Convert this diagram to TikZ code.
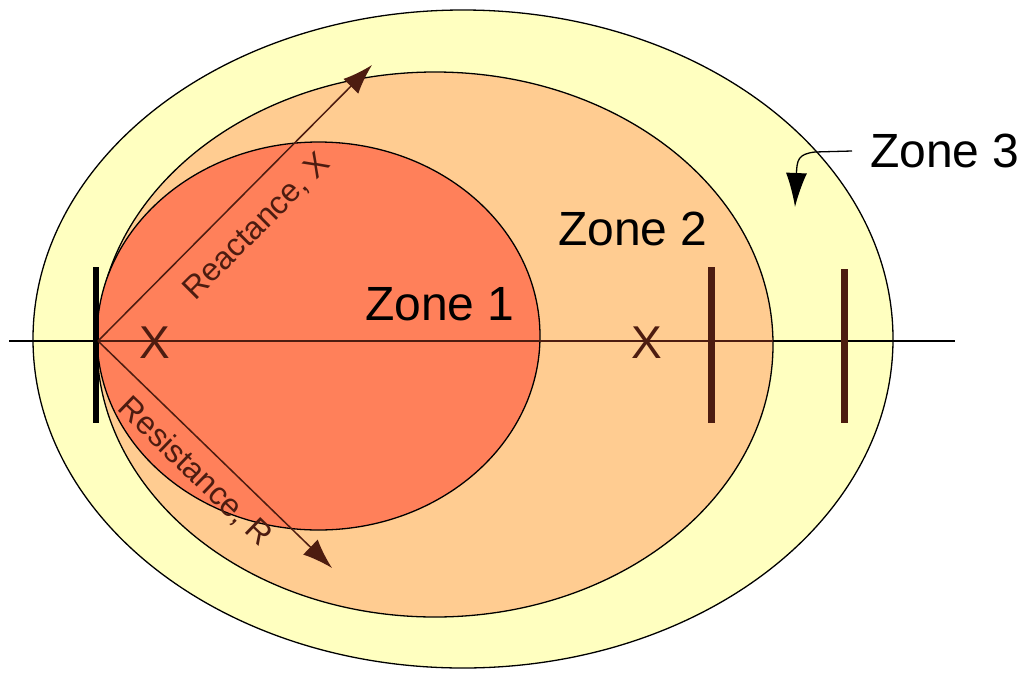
\documentclass[tikz,border=0pt]{standalone}
\usepackage{fontspec}
\setmainfont{Liberation Sans}
\usetikzlibrary{arrows.meta}
\definecolor{zthree}{RGB}{255,255,192}
\definecolor{ztwo}{RGB}{255,204,145}
\definecolor{zone}{RGB}{255,128,90}
\definecolor{dbrown}{RGB}{77,28,16}
\tikzset{
  zoneedge/.style={draw=black,line width=1.3pt},
  zonelabel/.style={font=\fontsize{48}{50}\selectfont,anchor=base west,inner sep=0pt,text=black},
  axislabel/.style={font=\fontsize{32}{34}\selectfont,inner sep=0pt,text=dbrown},
  crossmark/.style={font=\fontsize{46}{48}\selectfont,inner sep=0pt,text=dbrown},
  relaybar/.style={line width=7pt,dbrown},
  reach/.style={dbrown,line width=1.5pt,-{Latex[length=30pt,width=21pt]}},
}
\begin{document}
\begin{tikzpicture}[x=1pt,y=-1pt]
\useasboundingbox (0,0) rectangle (1030,675);
% zones
\draw[zoneedge,fill=zthree] (463,339) ellipse [x radius=430,y radius=329];
\draw[zoneedge,fill=ztwo] (435,344.5) ellipse [x radius=338,y radius=272.5];
\draw[zoneedge,fill=zone] (318.5,336) ellipse [x radius=221.5,y radius=194];
% axis
\coordinate (axl) at (9,341);
\coordinate (axr) at (955,341);
\coordinate (o) at (98,341);
\draw[line width=1.3pt,black] (axl) -- (o);
\draw[line width=1.3pt,dbrown] (o) -- (773,341);
\draw[line width=1.3pt,black] (773,341) -- (axr);
% bars
\coordinate (b0t) at (96,267); \coordinate (b0b) at (96,423);
\draw[line width=6.5pt,black] (b0t) -- (b0b);
\coordinate (b1t) at (711,267); \coordinate (b1b) at (711,423);
\draw[relaybar] (b1t) -- (b1b);
\coordinate (b2t) at (844,269); \coordinate (b2b) at (844,423);
\draw[relaybar] (b2t) -- (b2b);
% crosses
\node[crossmark] (x1) at (155,342.5) {X};
\node[crossmark] (x2) at (647,342.5) {X};
% reach arrows
\coordinate (xt) at (372,65);
\coordinate (rt) at (332,568);
\draw[reach] (o) -- (xt);
\draw[reach] (o) -- (rt);
\node[axislabel,rotate=45] (xl) at (257,227) {Reactance, X};
\node[axislabel,rotate=-44] (rl) at (195,472) {Resistance, R};
% labels
\node[zonelabel] (z1) at (365,320) {Zone 1};
\node[zonelabel] (z2) at (558,245) {Zone 2};
\node[zonelabel] (z3) at (870,167) {Zone 3};
\coordinate (z3s) at (852,151);
\coordinate (z3e) at (795,207);
\draw[line width=1.3pt,black,-{Latex[length=34pt,width=21pt]}] (z3s) -- (815,152) .. controls (798,154) and (797,160) .. (z3e);
\end{tikzpicture}
\end{document}
